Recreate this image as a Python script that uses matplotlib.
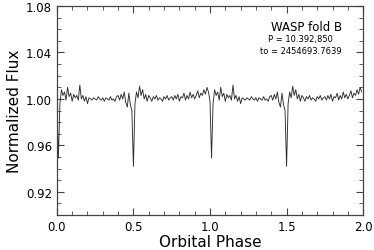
import numpy as np
import matplotlib
matplotlib.use('Agg')
import matplotlib.pyplot as plt
from matplotlib.ticker import MultipleLocator

# una sola vuelta del ciclo (fase 0.00 .. 0.99, paso 0.01)
fase = np.round(np.arange(0.0, 1.0, 0.01), 2)
flujo = [
    0.998, 0.949, 0.996, 1.008, 1.003, 1.006, 0.999, 1.010, 1.002, 1.005,
    0.998, 1.004, 1.001, 1.003, 0.999, 1.012, 1.000, 1.003, 0.998, 1.002,
    0.996, 1.001, 1.000, 0.999, 1.001, 1.000, 0.999, 1.002, 1.000, 0.999,
    1.001, 0.998, 1.001, 1.000, 0.999, 1.002, 0.999, 1.000, 0.998, 1.002,
    1.003, 0.999, 1.004, 1.000, 1.006, 0.997, 0.993, 1.005, 0.995, 0.990,
    0.942, 0.996, 1.006, 1.001, 1.011, 1.003, 1.008, 1.000, 1.004, 0.998,
    1.003, 1.001, 0.998, 1.002, 1.000, 1.003, 0.999, 1.001, 1.000, 0.998,
    1.002, 1.000, 1.003, 0.999, 1.001, 1.002, 0.999, 1.003, 1.000, 1.004,
    0.998, 1.002, 1.001, 1.005, 0.999, 1.003, 1.000, 1.006, 1.001, 1.004,
    1.000, 1.003, 1.007, 1.001, 1.005, 1.003, 1.008, 1.004, 1.010, 1.006,
]
titulo = 'WASP fold B'
periodo = 'P = 10.392,850'
epoca = 'to = 2454693.7639'

# el pliegue se muestra dos veces (fase 0-2)
x = np.concatenate([fase, fase + 1.0])
y = np.concatenate([flujo, flujo])

plt.rcParams['font.family'] = ['DejaVu Sans']
fig = plt.figure(figsize=(3.74, 2.51), dpi=100)
ax = fig.add_axes([0.152, 0.139, 0.819, 0.833])
ax.plot(x, y, color='#2e2e2e', lw=0.65)

ax.set_xlim(0.0, 2.0)
ax.set_ylim(0.90, 1.08)
ax.xaxis.set_major_locator(MultipleLocator(0.5))
ax.xaxis.set_minor_locator(MultipleLocator(0.1))
ax.yaxis.set_major_locator(MultipleLocator(0.04))
ax.yaxis.set_minor_locator(MultipleLocator(0.01))
ax.xaxis.set_major_formatter(plt.FormatStrFormatter('%.1f'))
ax.yaxis.set_major_formatter(plt.FormatStrFormatter('%.2f'))
ax.tick_params(which='both', direction='in', top=True, right=True, labelsize=8.5, color='#444444')
ax.tick_params(which='major', length=5, width=0.8)
ax.tick_params(which='minor', length=3, width=0.6)
for s in ax.spines.values():
    s.set_color('#444444')
    s.set_linewidth(0.9)

ax.set_xlabel('Orbital Phase', fontsize=11, labelpad=1)
ax.set_ylabel('Normalized Flux', fontsize=11, labelpad=3)

ax.text(1.63, 1.062, titulo, ha='center', va='center', fontsize=8.5)
ax.text(1.593, 1.052, periodo, ha='center', va='center', fontsize=6)
ax.text(1.593, 1.042, epoca, ha='center', va='center', fontsize=6)

fig.savefig('out.png', dpi=100)
